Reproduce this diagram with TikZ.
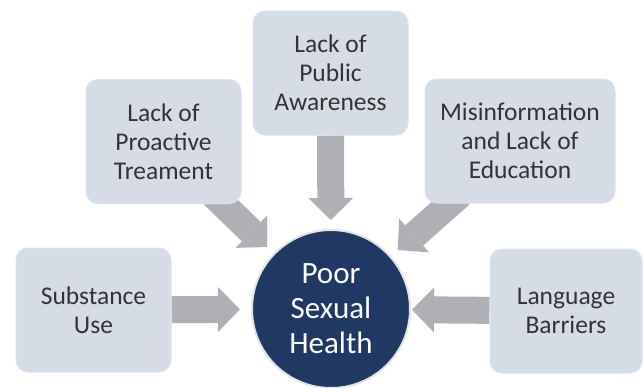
\documentclass[tikz,border=0pt]{standalone}
\usepackage{fontspec}
\setmainfont{Carlito}
\usepackage{tikz}
\usetikzlibrary{arrows.meta, calc, backgrounds}

\definecolor{boxfill}{HTML}{D6DCE5}
\definecolor{boxline}{HTML}{DAE3F3}
\definecolor{arrowgray}{HTML}{AEB0B5}
\definecolor{navy}{HTML}{203864}
\definecolor{ringgray}{HTML}{E4E4E4}
\definecolor{textgray}{HTML}{333333}

\begin{document}
\begin{tikzpicture}[
    x=1pt, y=-1pt,
    cause/.style={rectangle, draw=boxline, line width=1pt, fill=boxfill, rounded corners=12pt, minimum height=124pt, inner sep=0pt, align=center, text=textgray, font=\fontsize{25.5}{29}\selectfont},
    outcome/.style={circle, draw=ringgray, line width=2pt, fill=navy, minimum size=158pt, inner sep=0pt, align=center, text=white, font=\fontsize{31}{35}\selectfont},
    block/.style={arrowgray, line width=27pt, -{Triangle[length=22pt, width=45pt, line width=0pt]}},
]
\useasboundingbox (0,0) rectangle (643,388);

\node[outcome] (health) at (331,309) {Poor\\Sexual\\Health};

\node[cause, minimum width=155pt] (aware) at (330.5,73) {Lack of\\Public\\Awareness};
\node[cause, minimum width=155pt] (proact) at (163.5,141.5) {Lack of\\Proactive\\Treament};
\node[cause, minimum width=190pt] (misinfo) at (520,141) {Misinformation\\and Lack of\\Education};
\node[cause, minimum width=155pt] (subst) at (93.5,310) {Substance\\Use};
\node[cause, minimum width=152pt] (lang) at (566,311) {Language\\Barriers};

\begin{scope}[on background layer]
\draw[block, shorten >=9pt] (aware) -- (health);
\draw[block, shorten >=9pt] ($(proact.south east)+(-28,-9)$) -- (health);
\draw[block, shorten >=9pt] ($(misinfo.south west)+(36,-9)$) -- (health);
\draw[block, shorten >=11pt] (subst) -- (health);
\draw[block, shorten >=1pt] (lang) -- (health);
\end{scope}

\end{tikzpicture}
\end{document}
